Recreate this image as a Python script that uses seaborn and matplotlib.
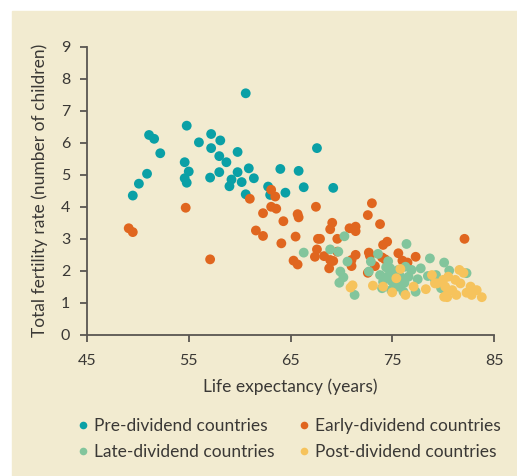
import pandas as pd
import matplotlib.pyplot as plt
import seaborn as sns
from matplotlib.patches import Rectangle
from matplotlib.lines import Line2D

groups = ["Pre-dividend countries", "Early-dividend countries",
          "Late-dividend countries", "Post-dividend countries"]
colors = ["#0aa0a6", "#e0661f", "#82c59c", "#f6c35c"]

pre_life = [49.5, 50.1, 50.9, 51.1, 51.6, 52.2, 54.6, 55.0, 54.6, 54.8, 54.8, 56.0,
            57.2, 58.1, 57.2, 59.8, 58.0, 58.7, 58.0, 57.1, 59.8, 60.9, 61.4, 59.2,
            60.2, 59.0, 60.6, 60.6, 64.0, 62.8, 63.0, 64.5, 65.8, 66.3, 69.2, 67.6]
pre_fert = [4.35, 4.72, 5.03, 6.24, 6.12, 5.67, 5.39, 5.10, 4.89, 4.75, 6.53, 6.01,
            6.27, 6.07, 5.83, 5.71, 5.58, 5.39, 5.08, 4.91, 5.08, 5.20, 4.89, 4.85,
            4.77, 4.64, 4.39, 7.54, 5.18, 4.63, 4.37, 4.44, 5.12, 4.61, 4.59, 5.83]

early_life = [49.1, 49.5, 54.7, 57.1, 61.0, 63.1, 63.5, 63.1, 63.6, 62.3, 64.3, 61.6,
              62.3, 64.1, 65.5, 65.3, 65.7, 65.7, 65.8, 67.5, 69.1, 68.9, 67.7, 67.9,
              69.6, 70.8, 71.4, 71.4, 73.0, 72.6, 73.8, 67.6, 67.4, 68.3, 68.9, 69.2,
              68.8, 69.6, 71.4, 71.0, 71.0, 72.7, 72.8, 72.6, 74.5, 74.1, 75.6, 74.0,
              74.3, 76.0, 76.5, 77.3, 73.3, 82.1]
early_fert = [3.33, 3.21, 3.97, 2.36, 4.25, 4.53, 4.32, 4.00, 3.94, 3.80, 3.55, 3.26,
              3.09, 2.86, 3.07, 2.32, 2.20, 3.77, 3.67, 4.00, 3.50, 3.30, 3.00, 3.00,
              3.00, 3.33, 3.38, 3.24, 4.11, 3.74, 3.46, 2.67, 2.44, 2.46, 2.34, 2.31,
              2.08, 2.60, 2.50, 2.34, 2.15, 2.57, 2.47, 1.94, 2.91, 2.81, 2.55, 2.42,
              2.36, 2.32, 2.26, 2.44, 2.15, 3.00]

late_life = [70.3, 66.3, 68.9, 69.7, 70.6, 69.9, 70.2, 69.8, 71.3, 72.9, 72.7, 76.4,
             78.7, 80.1, 73.6, 74.4, 74.8, 75.6, 76.3, 76.9, 77.8, 73.8, 74.5, 75.8,
             76.6, 77.5, 78.5, 79.2, 74.1, 75.0, 76.2, 74.0, 75.6, 76.1, 77.3, 80.6,
             82.3, 79.3, 79.8, 74.6, 75.2, 74.9]
late_fert = [3.08, 2.57, 2.67, 2.60, 2.29, 1.98, 1.80, 1.63, 1.25, 2.29, 1.98, 2.84,
             2.39, 2.26, 2.53, 2.11, 2.08, 2.03, 2.13, 2.03, 2.08, 1.87, 1.82, 1.82,
             1.82, 1.74, 1.84, 1.72, 1.66, 1.66, 1.63, 1.46, 1.51, 1.35, 1.35, 2.01,
             1.93, 1.87, 1.46, 2.30, 1.95, 1.40]

post_life = [70.9, 71.1, 73.1, 75.8, 75.4, 74.1, 75.0, 76.3, 77.1, 78.3, 78.9, 79.2,
             80.1, 81.6, 82.0, 80.5, 80.0, 81.2, 79.4, 80.2, 81.7, 80.9, 80.5, 82.7,
             83.3, 82.3, 82.8, 81.3, 80.4, 83.8]
post_fert = [1.48, 1.55, 1.54, 2.06, 1.77, 1.51, 1.33, 1.25, 1.51, 1.43, 1.87, 1.61,
             1.19, 2.03, 1.94, 1.82, 1.72, 1.72, 1.61, 1.51, 1.61, 1.40, 1.35, 1.51,
             1.40, 1.32, 1.25, 1.25, 1.18, 1.18]

frames = []
for name, life, fert in zip(groups,
                            [pre_life, early_life, late_life, post_life],
                            [pre_fert, early_fert, late_fert, post_fert]):
    frames.append(pd.DataFrame({"life": life, "fert": fert, "group": name}))
df = pd.concat(frames, ignore_index=True)

sns.set_style("ticks")
plt.rcParams["font.family"] = ["Lato", "DejaVu Sans"]

fig = plt.figure(figsize=(5.17, 4.76), dpi=100, facecolor="white")
fig.patches.append(Rectangle((12 / 517, 0), 1, 1 - 11 / 476, transform=fig.transFigure,
                             color="#f2ebd0", zorder=-10))
ax = fig.add_axes([87 / 517, 1 - 335 / 476, 407 / 517, 288.5 / 476])
ax.set_facecolor("none")

sns.scatterplot(data=df, x="life", y="fert", hue="group", hue_order=groups,
                palette=colors, s=50, linewidth=0, alpha=1, legend=False, ax=ax,
                clip_on=False)

ax.set_xlim(45, 85)
ax.set_ylim(0, 9)
ax.set_xticks([45, 55, 65, 75, 85])
ax.set_yticks(range(10))
spine_col = "#5a5651"
for side in ["top", "right"]:
    ax.spines[side].set_visible(False)
for side in ["left", "bottom"]:
    ax.spines[side].set_color(spine_col)
    ax.spines[side].set_linewidth(1.3)
ax.tick_params(colors=spine_col, labelcolor="#3a3835", labelsize=11.5, length=5, width=1.3)
ax.tick_params(axis="x", pad=9)
ax.tick_params(axis="y", pad=7)
ax.set_xlabel("Life expectancy (years)", fontsize=12.5, color="#3a3835", labelpad=7)
ax.set_ylabel("Total fertility rate (number of children)", fontsize=12.5, color="#3a3835",
              labelpad=9)

handles = [Line2D([], [], marker="o", ls="", color=c, markersize=5.5, markeredgewidth=0)
           for c in colors]
order = [0, 2, 1, 3]
fig.legend([handles[i] for i in order], [groups[i] for i in order],
           loc="upper left", bbox_to_anchor=(78 / 517, 1 - 418 / 476), ncol=2,
           frameon=False, fontsize=12.5, handlelength=0.6, handletextpad=0.35,
           columnspacing=1.35, labelspacing=0.6, borderpad=0, borderaxespad=0,
           labelcolor="#3a3835")

fig.savefig("out.png", dpi=100, facecolor="white")
